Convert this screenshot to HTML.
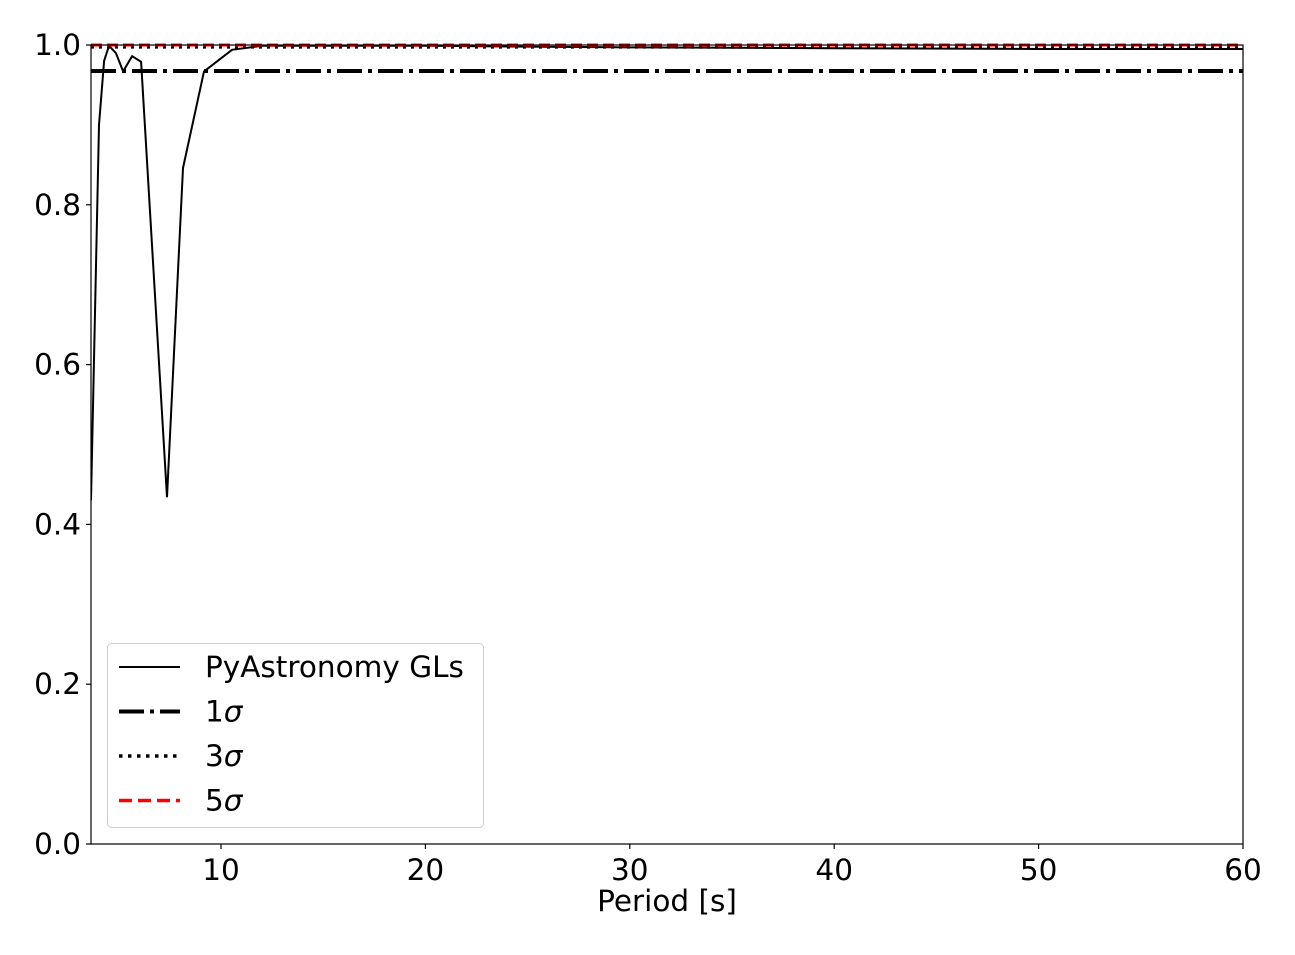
<!DOCTYPE html>
<html><head><meta charset="utf-8"><style>
body{margin:0;background:#fff;}
svg text{font-family:"DejaVu Sans","Liberation Sans",sans-serif;fill:#000;}
</style></head><body>
<svg id="chart" width="1295" height="950" xmlns="http://www.w3.org/2000/svg"></svg>
<script>
const periods=[3.64,4.03,4.28,4.52,4.86,5.21,5.65,6.09,7.36,8.14,9.17,10.54,12.01,20,30,40,50,60];
const power=[0.43,0.90,0.98,0.999,0.99,0.967,0.986,0.979,0.434,0.846,0.967,0.994,0.999,0.999,0.997,0.996,0.995,0.995];
const sigmaLevels=[0.9675,0.9973,0.99995];
const xTicks=[10,20,30,40,50,60];
const yTicks=[0,0.2,0.4,0.6,0.8,1.0];
const xMin=3.64,xMax=60,yMin=0,yMax=1;
const L=91,R=1243,T=45,B=844;
const sx=v=>L+(v-xMin)/(xMax-xMin)*(R-L);
const sy=v=>B-(v-yMin)/(yMax-yMin)*(B-T);
const svg=document.getElementById('chart');
const NS='http://www.w3.org/2000/svg';
function mk(tag,attrs,parent){const e=document.createElementNS(NS,tag);for(const k in attrs)e.setAttribute(k,attrs[k]);(parent||svg).appendChild(e);return e;}
let d=periods.map((p,i)=>(i?'L':'M')+sx(p).toFixed(1)+','+sy(power[i]).toFixed(1)).join(' ');
const clip=mk('clipPath',{id:'cp'});mk('rect',{x:L,y:T-2,width:R-L,height:B-T+2},clip);
const line=mk('path',{d:d,fill:'none',stroke:'#000','stroke-width':2,'clip-path':'url(#cp)'});


const styles=[{c:'#000',w:4,da:'25,6,4,6',n:'sigma-1-line'},{c:'#000',w:3,da:'3,5',n:'sigma-3-line'},{c:'#f00',w:3,da:'11,5',n:'sigma-5-line'}];
sigmaLevels.forEach((s,i)=>{
 const st=styles[i];
 const l=mk('line',{x1:L,x2:R,y1:sy(s),y2:sy(s),stroke:st.c,'stroke-width':st.w,'stroke-dasharray':st.da});
 
 
});
const fr=mk('rect',{x:L,y:T,width:R-L,height:B-T,fill:'none',stroke:'#000','stroke-width':1.2});


xTicks.forEach(t=>{
 mk('line',{x1:sx(t),x2:sx(t),y1:B,y2:B+5,stroke:'#000','stroke-width':1.2});
 const tx=mk('text',{x:sx(t),y:B+36,'font-size':29.5,'text-anchor':'middle'});tx.textContent=t;
 
 
});
yTicks.forEach(t=>{
 mk('line',{x1:L-5,x2:L,y1:sy(t),y2:sy(t),stroke:'#000','stroke-width':1.2});
 const tx=mk('text',{x:L-10,y:sy(t)+10,'font-size':29.5,'text-anchor':'end'});tx.textContent=t.toFixed(1);
 
 
});
const xl=mk('text',{x:(L+R)/2,y:911,'font-size':29.5,'text-anchor':'middle'});xl.textContent='Period [s]';


const lg=mk('g',{});


mk('rect',{x:107.5,y:643.5,width:376,height:184,rx:4,fill:'#fff',stroke:'#ccc','stroke-width':1},lg);
const entries=[{t:'PyAstronomy GLs',c:'#000',w:2,da:'none'},{t:'1σ',c:'#000',w:4,da:'25,6,4,6'},{t:'3σ',c:'#000',w:3.5,da:'3.5,5.5'},{t:'5σ',c:'#f00',w:3.5,da:'13,6'}];
entries.forEach((e,i)=>{
 const y=667+i*44.5;
 const g=mk('g',{},lg);
 
 
 mk('line',{x1:119,x2:180,y1:y,y2:y,stroke:e.c,'stroke-width':e.w,'stroke-dasharray':e.da},g);
 const tx=mk('text',{x:205,y:y+10,'font-size':29.5},g);
 if(i===0)tx.textContent=e.t;else{tx.textContent=e.t[0];const ts=mk('tspan',{'font-style':'italic'},tx);ts.textContent='σ';}
});
</script>
</body></html>
